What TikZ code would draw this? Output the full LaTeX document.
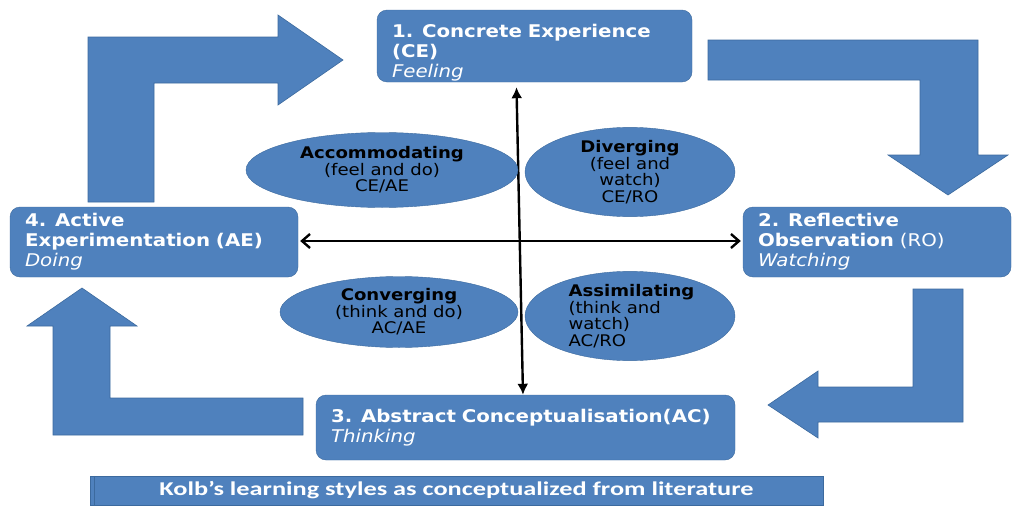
\documentclass[tikz,border=0pt]{standalone}
\usepackage{fontspec}
\setmainfont{DejaVu Sans}[FakeStretch=1.13]
\newfontfamily\capfont{Carlito}[FakeStretch=1.35]
\usetikzlibrary{arrows.meta,shapes.geometric}
\definecolor{kolbblue}{HTML}{4F81BD}
\definecolor{kolbedge}{HTML}{3C6A9E}

\tikzset{
  stage/.style={draw=kolbedge, fill=kolbblue, rounded corners=10pt, text=white,
    align=left, inner xsep=15pt, inner ysep=0pt,
    font=\fontsize{17.5}{20}\selectfont\bfseries},
  lstyle/.style={ellipse, draw=kolbedge, fill=kolbblue, text=black, align=center,
    inner sep=0pt, font=\fontsize{16}{16.5}\selectfont},
  bigarrow/.style={draw=kolbedge, fill=kolbblue, line width=0.6pt},
  axis/.style={line width=2.4pt, black},
}

\begin{document}
\begin{tikzpicture}[x=1pt, y=-1pt]

    \useasboundingbox (0,0) rectangle (1013,506);

    % Cycle arrows
    \draw[bigarrow] (88,202) -- (88,37) -- (278,37) -- (278,15) -- (343,60)
        -- (278,105) -- (278,83) -- (154,83) -- (154,202) -- cycle;
    \draw[bigarrow] (708,40) -- (978,40) -- (978,155) -- (1008,155) -- (948,195)
        -- (888,155) -- (920,155) -- (920,80) -- (708,80) -- cycle;
    \draw[bigarrow] (963,289) -- (963,422) -- (818,422) -- (818,438) -- (768,405)
        -- (818,371) -- (818,387) -- (913,387) -- (913,289) -- cycle;
    \draw[bigarrow] (303,398) -- (303,435) -- (53,435) -- (53,326) -- (27,326)
        -- (82,288) -- (137,326) -- (110,326) -- (110,398) -- cycle;

    % Stages
    \node[stage, text width=285pt, minimum height=72pt] (ce) at (534.5,46)
        {\rule{0pt}{26pt}1. Concrete Experience\\(CE)\\{\mdseries\itshape Feeling}};
    \node[stage, text width=238pt, minimum height=70pt] (ro) at (877,242)
        {2. Reflective\\Observation {\mdseries(RO)}\\{\mdseries\itshape Watching}};
    \node[stage, text width=258pt, minimum height=70pt] (ae) at (154,242)
        {4. Active\\Experimentation (AE)\\{\mdseries\itshape Doing}};
    \node[stage, text width=389pt, minimum height=65pt] (ac) at (525.5,427.5)
        {3. Abstract Conceptualisation(AC)\\{\mdseries\itshape Thinking}};

    % Axes
    \draw[axis, {Latex[length=11pt,width=11pt]}-{Latex[length=11pt,width=11pt]}]
        ([xshift=-18pt, yshift=-5pt]ce.south) -- ([xshift=-2.5pt]ac.north);
    \draw[axis, {Straight Barb[length=8pt,width=14pt]}-{Straight Barb[length=8pt,width=14pt]}]
        ([xshift=2pt, yshift=1pt]ae.east) -- ([xshift=-2pt, yshift=1pt]ro.west);

    % Learning styles
    \node[lstyle, minimum width=272pt, minimum height=75pt] (accom) at (382,170)
        {\textbf{Accommodating}\\(feel and do)\\CE/AE};
    \node[lstyle, minimum width=210pt, minimum height=79pt] (diverg) at (630,172)
        {\textbf{Diverging}\\(feel and\\watch)\\CE/RO};
    \node[lstyle, minimum width=238pt, minimum height=71pt] (converg) at (399,312)
        {\textbf{Converging}\\(think and do)\\AC/AE};
    \node[lstyle, minimum width=210pt, minimum height=87pt, align=left] (assim) at (630,316)
        {\hspace*{3pt}\textbf{Assimilating}\\\hspace*{3pt}(think and\\\hspace*{3pt}watch)\\\hspace*{3pt}AC/RO};

    % Caption
    \node[draw=kolbedge, fill=kolbblue, text=white, minimum width=733pt, minimum height=29pt,
        inner sep=0pt, font=\capfont\fontsize{19.5}{21}\selectfont\bfseries] (caption) at (456.5,490.5)
        {Kolb’s learning styles as conceptualized from literature};
    \draw[kolbedge, line width=1.2pt] ([xshift=5pt]caption.north west) -- ([xshift=5pt]caption.south west);

\end{tikzpicture}
\end{document}
